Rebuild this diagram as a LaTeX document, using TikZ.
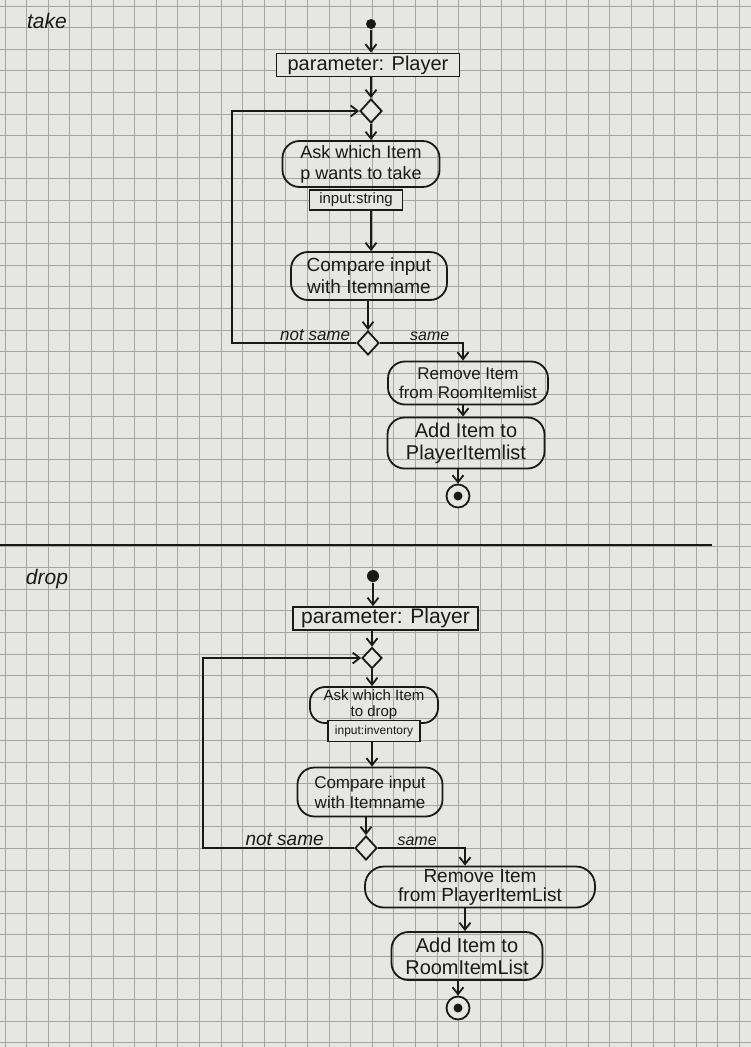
\documentclass[tikz,border=0pt]{standalone}
\usepackage{fontspec}
\setmainfont{Liberation Sans}
\usetikzlibrary{arrows.meta,shapes.geometric,calc}
\definecolor{paper}{RGB}{230,230,227}
\definecolor{gridc}{RGB}{165,165,163}
\definecolor{ink}{RGB}{25,25,25}
\newcommand{\fsz}[1]{\fontsize{#1}{#1}\selectfont}
\begin{document}
\begin{tikzpicture}[x=1pt,y=-1pt,
  line width=1.8pt, draw=ink, text=ink,
  act/.style={draw, rounded corners=17pt, align=center, inner sep=0pt},
  pbox/.style={draw, fill=paper, inner sep=0pt},
  pin/.style={draw, fill=paper, inner sep=0pt},
  dec/.style={draw, diamond, fill=paper, inner sep=0pt, minimum width=22pt, minimum height=24pt},
  startdot/.style={circle, fill=ink, inner sep=0pt, minimum size=10pt},
  enddot/.style={circle, draw, fill=paper, inner sep=0pt, minimum size=23pt,
    path picture={\fill[ink] (path picture bounding box.center) circle (4.5pt);}},
  flow/.style={-{Straight Barb[length=7pt,width=11pt]}},
  lbl/.style={font=\itshape, inner sep=1pt},
  title/.style={font=\fontsize{21}{22}\selectfont\itshape, inner sep=0pt}]
% paper and grid
\fill[paper] (0,0) rectangle (751,1047);
\useasboundingbox (0,0) rectangle (751,1047);
\foreach \i in {0,...,34} {\draw[gridc, line width=0.9pt] ({5+21.6*\i},0) -- ({5+21.6*\i},1047);}
\foreach \j in {0,...,48} {\draw[gridc, line width=0.9pt] (0,{6+21.6*\j}) -- (751,{6+21.6*\j});}

% ---------------- take ----------------
\node[title] (t1) at (47,21) {take};
\node[startdot] (s1) at (371,24) {};
\node[pbox, minimum width=183pt, minimum height=23pt, font=\fsz{20}] (p1) at (368,65) {parameter: Player};
\node[dec] (d1) at (371,111) {};
\node[act, minimum width=157pt, minimum height=46pt, font=\fontsize{18}{21}\selectfont] (a1) at (361,164) {Ask which Item\\p wants to take};
\node[pin, minimum width=93pt, minimum height=20pt, font=\fsz{15}] (i1) at (356,200) {input:string};
\node[act, minimum width=156pt, minimum height=48pt, font=\fontsize{19}{22}\selectfont] (c1) at (369,276) {Compare input\\with Itemname};
\node[dec] (d2) at (368,343) {};
\node[act, minimum width=160pt, minimum height=43pt, font=\fontsize{17}{19}\selectfont] (r1) at (468,383) {Remove Item\\from RoomItemlist};
\node[act, minimum width=157pt, minimum height=51pt, font=\fontsize{20}{22}\selectfont] (g1) at (466,443) {Add Item to\\PlayerItemlist};
\node[enddot] (e1) at (458,496) {};
\coordinate (lp1) at (232,343);
\coordinate (lq1) at (232,111);
\coordinate (rt1) at (463,343);

\draw[flow] (s1) -- (s1 |- p1.north);
\draw[flow] (p1.south -| d1) -- (d1.north);
\draw[flow] (d1.south) -- (a1.north -| d1);
\draw[flow] (i1.south -| d1) -- (c1.north -| d1);
\draw[flow] (c1.south -| d2) -- (d2.north);
\draw[flow] (d2.west) -- node[lbl, above, pos=0.33, font=\fsz{17}\itshape] {not same} (lp1) -- (lq1) -- (d1.west);
\draw[flow] (d2.east) -- node[lbl, above, pos=0.6, font=\fsz{16}\itshape] {same} (rt1) -- (r1.north -| rt1);
\draw[flow] (r1.south -| rt1) -- (g1.north -| rt1);
\draw[flow] (g1.south -| e1) -- (e1.north);

% separator
\coordinate (sepA) at (0,545);
\coordinate (sepB) at (712,545);
\draw[line width=1.4pt] (sepA) -- (sepB);

% ---------------- drop ----------------
\node[title] (t2) at (47,579) {drop};
\node[startdot, minimum size=12pt] (s2) at (373,576) {};
\node[pbox, minimum width=185pt, minimum height=23pt, font=\fsz{21}] (p2) at (385.5,618.5) {parameter: Player};
\node[dec, minimum width=20pt, minimum height=21pt] (d3) at (372,658) {};
\node[act, rounded corners=15pt, minimum width=128pt, minimum height=36pt,
  font=\fontsize{15}{16}\selectfont] (a2) at (374,705) {Ask which Item\\to drop};
\node[pin, minimum width=92pt, minimum height=21pt, font=\fsz{12}] (i2) at (374,731) {input:inventory};
\node[act, minimum width=145pt, minimum height=49pt, font=\fontsize{17}{20}\selectfont] (c2) at (370,792) {Compare input\\with Itemname};
\node[dec] (d4) at (366,848) {};
\node[act, rounded corners=19pt, minimum width=230pt, minimum height=41pt, font=\fontsize{19}{19}\selectfont] (r2) at (480,887) {Remove Item\\from PlayerItemList};
\node[act, minimum width=151pt, minimum height=48pt, font=\fontsize{20}{22}\selectfont] (g2) at (467,956) {Add Item to\\RoomItemList};
\node[enddot] (e2) at (458,1008) {};
\coordinate (lp2) at (203,848);
\coordinate (lq2) at (203,658);
\coordinate (rt2) at (465,848);

\draw[flow] (s2) -- (s2 |- p2.north);
\draw[flow] (p2.south -| d3) -- (d3.north);
\draw[flow] (d3.south) -- (a2.north -| d3);
\draw[flow] (i2.south -| d3) -- (c2.north -| d3);
\draw[flow] (c2.south -| d4) -- (d4.north);
\draw[flow] (d4.west) -- node[lbl, above, pos=0.46, font=\fsz{19}\itshape] {not same} (lp2) -- (lq2) -- (d3.west);
\draw[flow] (d4.east) -- node[lbl, above, pos=0.45, font=\fsz{16}\itshape] {same} (rt2) -- (r2.north -| rt2);
\draw[flow] (r2.south -| rt2) -- (g2.north -| rt2);
\draw[flow] (g2.south -| e2) -- (e2.north);
\end{tikzpicture}
\end{document}
